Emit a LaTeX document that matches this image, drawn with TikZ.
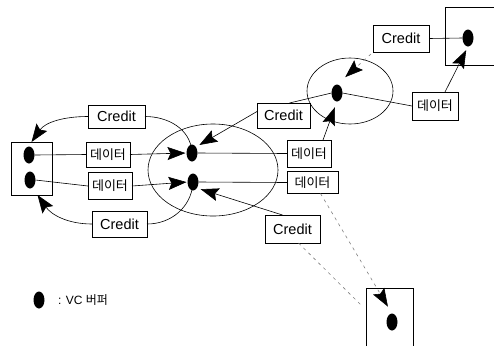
\documentclass[tikz,border=0pt]{standalone}
\usepackage{fontspec}
\setmainfont{Liberation Sans}
\newfontfamily\kr{Noto Sans CJK KR}
\usetikzlibrary{shapes.geometric,arrows.meta}
\begin{document}
\begin{tikzpicture}[x=1pt,y=-1pt,
  every node/.style={inner sep=0pt,outer sep=0pt},
  lbox/.style={draw,fill=white,line width=0.7pt},
  credit/.style={lbox,font=\fontsize{14.5}{16}\selectfont},
  data/.style={lbox,font=\kr\fontsize{13}{15}\selectfont},
  buf/.style={ellipse,fill=black,minimum width=11pt,minimum height=17pt},
  ring/.style={ellipse,draw,line width=0.6pt},
  ln/.style={line width=0.6pt},
  tip/.style={-{Stealth[length=18pt,width=13pt,inset=3pt,black]}},
  arr/.style={ln,tip},
  faint/.style={ln,gray,dash pattern=on 3pt off 4pt},
  faintarr/.style={faint,tip},
]
\useasboundingbox (0,0) rectangle (494,346);
% rings
\node[ring,minimum width=130pt,minimum height=92pt] (C) at (213,170) {};
\node[ring,minimum width=86pt,minimum height=66pt] (S) at (350,91) {};
% left box
\node[draw,line width=0.7pt,minimum width=41pt,minimum height=53pt] (L) at (31.5,168.5) {};
% open boxes
\draw[line width=0.7pt] (494,7) -- (445,7) -- (445,65) -- (494,65);
\draw[line width=0.7pt] (366,346) -- (366,288) -- (413,288) -- (413,346);
\coordinate (BRl) at (362,306);
% buffers
\node[buf] (Ld1) at (29,155) {};
\node[buf] (Ld2) at (30,180) {};
\node[buf] (Cd1) at (192,153) {};
\node[buf] (Cd2) at (193,182) {};
\node[buf] (Sd) at (337,93) {};
\node[buf] (TRd) at (468,38) {};
\node[buf] (BRd) at (392,322) {};
% labels
\node[credit,minimum width=57pt,minimum height=23pt] (CrUL) at (116.5,116.5) {Credit};
\node[credit,minimum width=55pt,minimum height=26pt] (CrLL) at (119.5,224) {Credit};
\node[credit,minimum width=53pt,minimum height=25pt] (CrM) at (283.5,115.5) {Credit};
\node[credit,minimum width=55pt,minimum height=28pt] (CrLR) at (292.5,229) {Credit};
\node[credit,minimum width=56pt,minimum height=27pt] (CrT) at (401,38.5) {Credit};
\node[data,minimum width=44pt,minimum height=25pt] (DL1) at (108,154.5) {데이터};
\node[data,minimum width=44pt,minimum height=27pt] (DL2) at (110,186) {데이터};
\node[data,minimum width=44pt,minimum height=27pt] (DC1) at (309,153.5) {데이터};
\node[data,minimum width=51pt,minimum height=22pt] (DC2) at (312.5,182.5) {데이터};
\node[data,minimum width=46pt,minimum height=28pt] (DR) at (435,106) {데이터};
% data flows
\draw[ln] (Ld1.east) -- (DL1.west);
\draw[arr,shorten >=1pt] (DL1.east) -- (Cd1.west);
\draw[ln] (Ld2.east) -- (DL2.west);
\draw[arr,shorten >=1pt] (DL2.east) -- (Cd2.west);
\draw[ln] (Cd1.east) -- (DC1.west);
\draw[arr,shorten >=6pt] ([xshift=14pt]DC1.north) -- (Sd.south);
\draw[ln] (Cd2.east) -- (DC2.west);
\draw[faintarr,shorten >=8pt] ([xshift=8pt]DC2.south) -- (BRd.north);
\draw[ln] (Sd.east) -- (DR.west);
\draw[arr,shorten >=4pt] ([xshift=10pt]DR.north) -- (TRd.south);
% credit flows
\draw[ln] ([yshift=-7pt]Cd1.north) to[out=95,in=0] (CrUL.east);
\draw[arr] (CrUL.west) to[out=180,in=55] (L.north);
\draw[ln] ([yshift=7pt]Cd2.south) to[out=-95,in=0] (CrLL.east);
\draw[arr] (CrLL.west) to[out=180,in=-55] ([xshift=6pt]L.south);
\draw[ln] (Sd.west) -- ([xshift=6pt]CrM.north);
\draw[arr,shorten >=4pt] ([yshift=4pt]CrM.west) -- (Cd1.north east);
\draw[ln] (TRd.west) -- (CrT.east);
\draw[faintarr,shorten >=11pt] ([xshift=-2pt,yshift=-2pt]CrT.south west) -- (Sd.north);
\draw[arr,shorten >=4pt] ([xshift=-10pt]CrLR.north) -- (Cd2.south east);
\draw[faint] ([xshift=6pt]CrLR.south) -- (BRl);
% legend
\node[buf] (Lg) at (39,300) {};
\node[anchor=west,font=\fontsize{12}{14}\selectfont] (LgT) at (58,300) {: VC {\kr 버퍼}};
\end{tikzpicture}
\end{document}
